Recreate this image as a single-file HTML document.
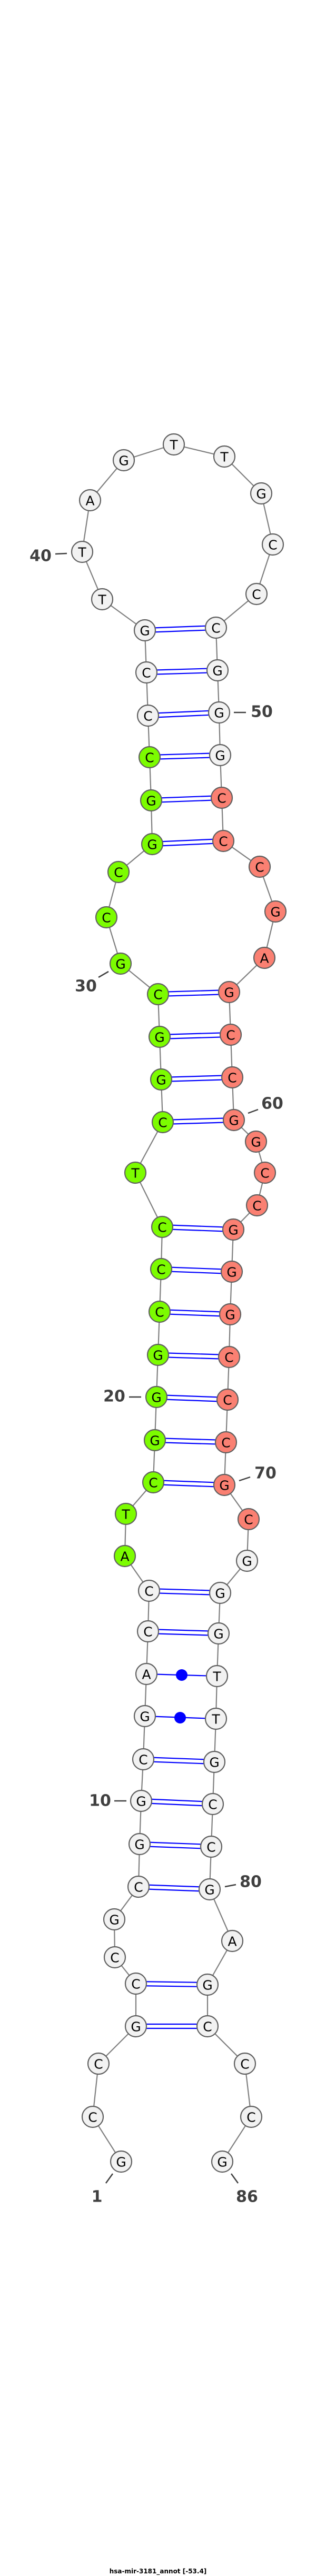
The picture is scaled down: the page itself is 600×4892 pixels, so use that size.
<!DOCTYPE html>
<html><head><meta charset="utf-8"><style>
html,body{margin:0;padding:0;background:#fff;}
svg{display:block;}
.b{stroke:#808080;stroke-width:2.2;fill:none}
.p{stroke:#0000ff;stroke-width:2.2}
.n{stroke:#606060;stroke-width:2.2}
.w{fill:#f2f2f2}.g{fill:#7cfc00}.r{fill:#fa8072}
.t{font-family:"DejaVu Sans","Liberation Sans",sans-serif;font-size:25px;text-anchor:middle;fill:#000}
.l{font-family:"DejaVu Sans","Liberation Sans",sans-serif;font-size:30px;font-weight:bold;fill:#404040;text-anchor:middle}
.k{stroke:#404040;stroke-width:2.5}
</style></head><body>
<svg width="600" height="4892" viewBox="0 0 600 4892" xmlns="http://www.w3.org/2000/svg">
<polyline class="b" points="230,4105 176,4020 187,3919 258,3848 258,3767 218,3717 217,3645 263,3583 265,3502 268,3420 272,3341 275,3259 278,3179 281,3098 283,3021 237,2955 239,2875 291,2815 294,2735 297,2653 300,2573 303,2491 306,2410 308,2330 257,2227 309,2131 306,2050 303,1969 300,1888 229,1830 202,1742 225,1656 289,1603 287,1520 284,1438 281,1359 278,1277 275,1197 194,1138 156,1048 171,950 235,874 330,844 426,867 496,937 518,1034 487,1128 410,1192 413,1273 416,1353 418,1434 421,1515 424,1597 493,1646 523,1731 502,1819 435,1884 438,1965 441,2046 444,2127 486,2168 503,2227 488,2289 443,2335 440,2415 437,2496 435,2577 432,2658 429,2739 426,2820 472,2885 469,2964 418,3025 415,3102 412,3183 410,3264 407,3346 404,3426 401,3507 398,3588 441,3686 394,3769 394,3848 465,3919 477,4020 422,4105"/>
<g class="p">
<line x1="258" y1="3844" x2="394" y2="3844"/><line x1="258" y1="3852" x2="394" y2="3852"/>
<line x1="258" y1="3763" x2="394" y2="3765"/><line x1="258" y1="3771" x2="394" y2="3773"/>
<line x1="263" y1="3579" x2="398" y2="3584"/><line x1="263" y1="3587" x2="398" y2="3592"/>
<line x1="265" y1="3498" x2="401" y2="3503"/><line x1="265" y1="3506" x2="401" y2="3511"/>
<line x1="268" y1="3416" x2="404" y2="3422"/><line x1="268" y1="3424" x2="404" y2="3430"/>
<line x1="272" y1="3337" x2="407" y2="3342"/><line x1="272" y1="3345" x2="407" y2="3350"/>
<line x1="275" y1="3259" x2="410" y2="3264"/>
<line x1="278" y1="3179" x2="412" y2="3183"/>
<line x1="281" y1="3094" x2="415" y2="3098"/><line x1="281" y1="3102" x2="415" y2="3106"/>
<line x1="283" y1="3017" x2="418" y2="3021"/><line x1="283" y1="3025" x2="418" y2="3029"/>
<line x1="291" y1="2811" x2="426" y2="2816"/><line x1="291" y1="2819" x2="426" y2="2824"/>
<line x1="294" y1="2731" x2="429" y2="2735"/><line x1="294" y1="2739" x2="429" y2="2743"/>
<line x1="297" y1="2649" x2="432" y2="2654"/><line x1="297" y1="2657" x2="432" y2="2662"/>
<line x1="300" y1="2569" x2="435" y2="2573"/><line x1="300" y1="2577" x2="435" y2="2581"/>
<line x1="303" y1="2487" x2="437" y2="2492"/><line x1="303" y1="2495" x2="437" y2="2500"/>
<line x1="306" y1="2406" x2="440" y2="2411"/><line x1="306" y1="2414" x2="440" y2="2419"/>
<line x1="308" y1="2326" x2="443" y2="2331"/><line x1="308" y1="2334" x2="443" y2="2339"/>
<line x1="309" y1="2127" x2="444" y2="2123"/><line x1="309" y1="2135" x2="444" y2="2131"/>
<line x1="306" y1="2046" x2="441" y2="2042"/><line x1="306" y1="2054" x2="441" y2="2050"/>
<line x1="303" y1="1965" x2="438" y2="1961"/><line x1="303" y1="1973" x2="438" y2="1969"/>
<line x1="300" y1="1884" x2="435" y2="1880"/><line x1="300" y1="1892" x2="435" y2="1888"/>
<line x1="289" y1="1599" x2="424" y2="1593"/><line x1="289" y1="1607" x2="424" y2="1601"/>
<line x1="287" y1="1516" x2="421" y2="1511"/><line x1="287" y1="1524" x2="421" y2="1519"/>
<line x1="284" y1="1434" x2="418" y2="1430"/><line x1="284" y1="1442" x2="418" y2="1438"/>
<line x1="281" y1="1355" x2="416" y2="1349"/><line x1="281" y1="1363" x2="416" y2="1357"/>
<line x1="278" y1="1273" x2="413" y2="1269"/><line x1="278" y1="1281" x2="413" y2="1277"/>
<line x1="275" y1="1193" x2="410" y2="1188"/><line x1="275" y1="1201" x2="410" y2="1196"/>
</g>
<circle cx="345" cy="3181" r="11" fill="#0000ff"/>
<circle cx="342" cy="3262" r="11" fill="#0000ff"/>
<g class="n">
<circle class="w" cx="230" cy="4105" r="20"/><circle class="w" cx="176" cy="4020" r="20"/><circle class="w" cx="187" cy="3919" r="20"/><circle class="w" cx="258" cy="3848" r="20"/><circle class="w" cx="258" cy="3767" r="20"/><circle class="w" cx="218" cy="3717" r="20"/><circle class="w" cx="217" cy="3645" r="20"/><circle class="w" cx="263" cy="3583" r="20"/><circle class="w" cx="265" cy="3502" r="20"/><circle class="w" cx="268" cy="3420" r="20"/><circle class="w" cx="272" cy="3341" r="20"/><circle class="w" cx="275" cy="3259" r="20"/><circle class="w" cx="278" cy="3179" r="20"/><circle class="w" cx="281" cy="3098" r="20"/><circle class="w" cx="283" cy="3021" r="20"/>
<circle class="g" cx="237" cy="2955" r="20"/><circle class="g" cx="239" cy="2875" r="20"/><circle class="g" cx="291" cy="2815" r="20"/><circle class="g" cx="294" cy="2735" r="20"/><circle class="g" cx="297" cy="2653" r="20"/><circle class="g" cx="300" cy="2573" r="20"/><circle class="g" cx="303" cy="2491" r="20"/><circle class="g" cx="306" cy="2410" r="20"/><circle class="g" cx="308" cy="2330" r="20"/><circle class="g" cx="257" cy="2227" r="20"/><circle class="g" cx="309" cy="2131" r="20"/><circle class="g" cx="306" cy="2050" r="20"/><circle class="g" cx="303" cy="1969" r="20"/><circle class="g" cx="300" cy="1888" r="20"/><circle class="g" cx="229" cy="1830" r="20"/><circle class="g" cx="202" cy="1742" r="20"/><circle class="g" cx="225" cy="1656" r="20"/><circle class="g" cx="289" cy="1603" r="20"/><circle class="g" cx="287" cy="1520" r="20"/><circle class="g" cx="284" cy="1438" r="20"/>
<circle class="w" cx="281" cy="1359" r="20"/><circle class="w" cx="278" cy="1277" r="20"/><circle class="w" cx="275" cy="1197" r="20"/><circle class="w" cx="194" cy="1138" r="20"/><circle class="w" cx="156" cy="1048" r="20"/><circle class="w" cx="171" cy="950" r="20"/><circle class="w" cx="235" cy="874" r="20"/><circle class="w" cx="330" cy="844" r="20"/><circle class="w" cx="426" cy="867" r="20"/><circle class="w" cx="496" cy="937" r="20"/><circle class="w" cx="518" cy="1034" r="20"/><circle class="w" cx="487" cy="1128" r="20"/><circle class="w" cx="410" cy="1192" r="20"/><circle class="w" cx="413" cy="1273" r="20"/><circle class="w" cx="416" cy="1353" r="20"/><circle class="w" cx="418" cy="1434" r="20"/>
<circle class="r" cx="421" cy="1515" r="20"/><circle class="r" cx="424" cy="1597" r="20"/><circle class="r" cx="493" cy="1646" r="20"/><circle class="r" cx="523" cy="1731" r="20"/><circle class="r" cx="502" cy="1819" r="20"/><circle class="r" cx="435" cy="1884" r="20"/><circle class="r" cx="438" cy="1965" r="20"/><circle class="r" cx="441" cy="2046" r="20"/><circle class="r" cx="444" cy="2127" r="20"/><circle class="r" cx="486" cy="2168" r="20"/><circle class="r" cx="503" cy="2227" r="20"/><circle class="r" cx="488" cy="2289" r="20"/><circle class="r" cx="443" cy="2335" r="20"/><circle class="r" cx="440" cy="2415" r="20"/><circle class="r" cx="437" cy="2496" r="20"/><circle class="r" cx="435" cy="2577" r="20"/><circle class="r" cx="432" cy="2658" r="20"/><circle class="r" cx="429" cy="2739" r="20"/><circle class="r" cx="426" cy="2820" r="20"/><circle class="r" cx="472" cy="2885" r="20"/>
<circle class="w" cx="469" cy="2964" r="20"/><circle class="w" cx="418" cy="3025" r="20"/><circle class="w" cx="415" cy="3102" r="20"/><circle class="w" cx="412" cy="3183" r="20"/><circle class="w" cx="410" cy="3264" r="20"/><circle class="w" cx="407" cy="3346" r="20"/><circle class="w" cx="404" cy="3426" r="20"/><circle class="w" cx="401" cy="3507" r="20"/><circle class="w" cx="398" cy="3588" r="20"/><circle class="w" cx="441" cy="3686" r="20"/><circle class="w" cx="394" cy="3769" r="20"/><circle class="w" cx="394" cy="3848" r="20"/><circle class="w" cx="465" cy="3919" r="20"/><circle class="w" cx="477" cy="4020" r="20"/><circle class="w" cx="422" cy="4105" r="20"/>
</g>
<g class="t" dominant-baseline="central">
<text x="230" y="4106">G</text><text x="176" y="4021">C</text><text x="187" y="3920">C</text><text x="258" y="3849">G</text><text x="258" y="3768">C</text><text x="218" y="3718">C</text><text x="217" y="3646">G</text><text x="263" y="3584">C</text><text x="265" y="3503">G</text><text x="268" y="3421">G</text><text x="272" y="3342">C</text><text x="275" y="3260">G</text><text x="278" y="3180">A</text><text x="281" y="3099">C</text><text x="283" y="3022">C</text>
<text x="237" y="2956">A</text><text x="239" y="2876">T</text><text x="291" y="2816">C</text><text x="294" y="2736">G</text><text x="297" y="2654">G</text><text x="300" y="2574">G</text><text x="303" y="2492">C</text><text x="306" y="2411">C</text><text x="308" y="2331">C</text><text x="257" y="2228">T</text><text x="309" y="2132">C</text><text x="306" y="2051">G</text><text x="303" y="1970">G</text><text x="300" y="1889">C</text><text x="229" y="1831">G</text><text x="202" y="1743">C</text><text x="225" y="1657">C</text><text x="289" y="1604">G</text><text x="287" y="1521">G</text><text x="284" y="1439">C</text>
<text x="281" y="1360">C</text><text x="278" y="1278">C</text><text x="275" y="1198">G</text><text x="194" y="1139">T</text><text x="156" y="1049">T</text><text x="171" y="951">A</text><text x="235" y="875">G</text><text x="330" y="845">T</text><text x="426" y="868">T</text><text x="496" y="938">G</text><text x="518" y="1035">C</text><text x="487" y="1129">C</text><text x="410" y="1193">C</text><text x="413" y="1274">G</text><text x="416" y="1354">G</text><text x="418" y="1435">G</text>
<text x="421" y="1516">C</text><text x="424" y="1598">C</text><text x="493" y="1647">C</text><text x="523" y="1732">G</text><text x="502" y="1820">A</text><text x="435" y="1885">G</text><text x="438" y="1966">C</text><text x="441" y="2047">C</text><text x="444" y="2128">G</text><text x="486" y="2169">G</text><text x="503" y="2228">C</text><text x="488" y="2290">C</text><text x="443" y="2336">G</text><text x="440" y="2416">G</text><text x="437" y="2497">G</text><text x="435" y="2578">C</text><text x="432" y="2659">C</text><text x="429" y="2740">C</text><text x="426" y="2821">G</text><text x="472" y="2886">C</text>
<text x="469" y="2965">G</text><text x="418" y="3026">G</text><text x="415" y="3103">G</text><text x="412" y="3184">T</text><text x="410" y="3265">T</text><text x="407" y="3347">G</text><text x="404" y="3427">C</text><text x="401" y="3508">C</text><text x="398" y="3589">G</text><text x="441" y="3687">A</text><text x="394" y="3770">G</text><text x="394" y="3849">C</text><text x="465" y="3920">C</text><text x="477" y="4021">C</text><text x="422" y="4106">G</text>
</g>
<g class="k">
<line x1="105" y1="1052" x2="127" y2="1051"/>
<line x1="444" y1="1353" x2="467" y2="1353"/>
<line x1="187" y1="1856" x2="206" y2="1845"/>
<line x1="471" y1="2114" x2="490" y2="2107"/>
<line x1="245" y1="2653" x2="268" y2="2653"/>
<line x1="454" y1="2812" x2="475" y2="2805"/>
<line x1="217" y1="3420" x2="240" y2="3420"/>
<line x1="427" y1="3583" x2="448" y2="3579"/>
<line x1="214" y1="4128" x2="201" y2="4146"/>
<line x1="439" y1="4128" x2="452" y2="4146"/>
</g>
<g class="l" dominant-baseline="central">
<text x="77" y="1056">40</text>
<text x="497" y="1352">50</text>
<text x="163" y="1873">30</text>
<text x="517" y="2096">60</text>
<text x="217" y="2652">20</text>
<text x="504" y="2798">70</text>
<text x="190" y="3420">10</text>
<text x="476" y="3574">80</text>
<text x="184" y="4172">1</text>
<text x="469" y="4172">86</text>
</g>
<text x="300" y="4887" font-family="'DejaVu Sans','Liberation Sans',sans-serif" font-size="12" font-weight="bold" text-anchor="middle" fill="#000">hsa-mir-3181_annot [-53.4]</text>
</svg>
</body></html>
